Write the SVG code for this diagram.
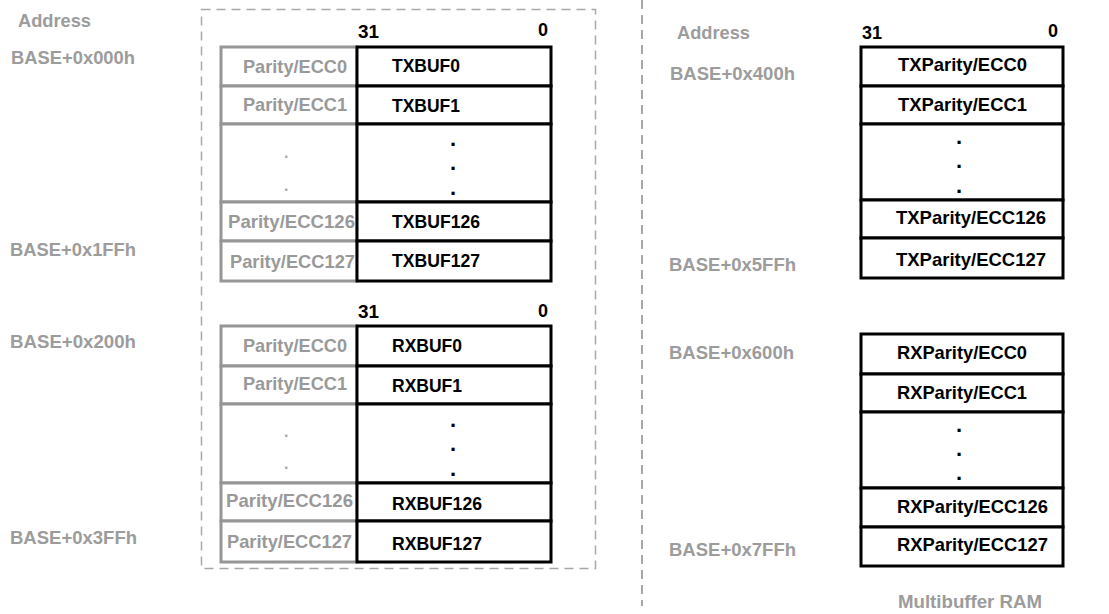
<svg xmlns="http://www.w3.org/2000/svg" width="1109" height="614" viewBox="0 0 1109 614">
<style>
text{font-family:"Liberation Sans",Arial,sans-serif;font-weight:bold;font-size:19px}
.g{fill:#999}
.k{fill:#000}
.addr{fill:#9c9c9c}
.gc{fill:#fff;stroke:#969696;stroke-width:3}
.bc{fill:#fff;stroke:#000;stroke-width:3}
.dash{fill:none;stroke:#a8a8a8;stroke-width:1.5;stroke-dasharray:9 6}
.gdot{fill:#aaa;font-size:16px}
.dot{font-size:22px}
.bit{font-size:18px}
</style>
<rect width="1109" height="614" fill="#fff"/>
<g id="frames">
<rect class="dash" x="201.5" y="9.5" width="394" height="559"/>
<line class="dash" x1="642" y1="0" x2="642" y2="606" style="stroke-width:2;stroke-dasharray:9 6"/>
</g>
<g id="connectors"></g>
<g id="addr-left">
<text class="addr" x="18" y="27" textLength="73" lengthAdjust="spacingAndGlyphs">Address</text>
<text class="addr" x="11" y="64" textLength="124" lengthAdjust="spacingAndGlyphs">BASE+0x000h</text>
<text class="addr" x="10" y="256" textLength="126" lengthAdjust="spacingAndGlyphs">BASE+0x1FFh</text>
<text class="addr" x="10" y="348" textLength="126" lengthAdjust="spacingAndGlyphs">BASE+0x200h</text>
<text class="addr" x="10" y="544" textLength="127" lengthAdjust="spacingAndGlyphs">BASE+0x3FFh</text>
</g>
<g id="tx-left">
<text class="k bit" x="358" y="38" textLength="21" lengthAdjust="spacingAndGlyphs">31</text>
<text class="k bit" x="538" y="36">0</text>
<g id="tx-ecc0"><rect class="gc" x="221" y="47" width="136" height="39"/><text class="g" x="243" y="73" textLength="104" lengthAdjust="spacingAndGlyphs">Parity/ECC0</text></g>
<g id="tx-ecc1"><rect class="gc" x="221" y="86" width="136" height="38"/><text class="g" x="243" y="111" textLength="104" lengthAdjust="spacingAndGlyphs">Parity/ECC1</text></g>
<g id="tx-eccdots"><rect class="gc" x="221" y="124" width="136" height="78"/><text class="gdot" x="284" y="158">.</text><text class="gdot" x="284" y="191">.</text></g>
<g id="tx-ecc126"><rect class="gc" x="221" y="202" width="136" height="39"/><text class="g" x="228" y="228" textLength="127" lengthAdjust="spacingAndGlyphs">Parity/ECC126</text></g>
<g id="tx-ecc127"><rect class="gc" x="221" y="241" width="136" height="40"/><text class="g" x="230" y="268" textLength="125" lengthAdjust="spacingAndGlyphs">Parity/ECC127</text></g>
<g id="txbuf0"><rect class="bc" x="357" y="47" width="194" height="39"/><text class="k" x="392" y="72" textLength="68" lengthAdjust="spacingAndGlyphs">TXBUF0</text></g>
<g id="txbuf1"><rect class="bc" x="357" y="86" width="194" height="38"/><text class="k" x="392" y="112" textLength="68" lengthAdjust="spacingAndGlyphs">TXBUF1</text></g>
<g id="txbufdots"><rect class="bc" x="357" y="124" width="194" height="78"/><text class="k dot" x="450" y="146">.</text><text class="k dot" x="450" y="170">.</text><text class="k dot" x="450" y="195">.</text></g>
<g id="txbuf126"><rect class="bc" x="357" y="202" width="194" height="39"/><text class="k" x="392" y="228" textLength="88" lengthAdjust="spacingAndGlyphs">TXBUF126</text></g>
<g id="txbuf127"><rect class="bc" x="357" y="241" width="194" height="40"/><text class="k" x="392" y="267" textLength="88" lengthAdjust="spacingAndGlyphs">TXBUF127</text></g>
</g>
<g id="rx-left">
<text class="k bit" x="358" y="318" textLength="21" lengthAdjust="spacingAndGlyphs">31</text>
<text class="k bit" x="538" y="317">0</text>
<g id="rx-ecc0"><rect class="gc" x="221" y="326" width="136" height="40"/><text class="g" x="243" y="352" textLength="104" lengthAdjust="spacingAndGlyphs">Parity/ECC0</text></g>
<g id="rx-ecc1"><rect class="gc" x="221" y="366" width="136" height="38"/><text class="g" x="243" y="390" textLength="104" lengthAdjust="spacingAndGlyphs">Parity/ECC1</text></g>
<g id="rx-eccdots"><rect class="gc" x="221" y="404" width="136" height="79"/><text class="gdot" x="284" y="437">.</text><text class="gdot" x="284" y="469">.</text></g>
<g id="rx-ecc126"><rect class="gc" x="221" y="483" width="136" height="38"/><text class="g" x="226" y="507" textLength="127" lengthAdjust="spacingAndGlyphs">Parity/ECC126</text></g>
<g id="rx-ecc127"><rect class="gc" x="221" y="521" width="136" height="41"/><text class="g" x="227" y="548" textLength="125" lengthAdjust="spacingAndGlyphs">Parity/ECC127</text></g>
<g id="rxbuf0"><rect class="bc" x="357" y="326" width="194" height="40"/><text class="k" x="392" y="352" textLength="70" lengthAdjust="spacingAndGlyphs">RXBUF0</text></g>
<g id="rxbuf1"><rect class="bc" x="357" y="366" width="194" height="38"/><text class="k" x="392" y="392" textLength="70" lengthAdjust="spacingAndGlyphs">RXBUF1</text></g>
<g id="rxbufdots"><rect class="bc" x="357" y="404" width="194" height="79"/><text class="k dot" x="450" y="427">.</text><text class="k dot" x="450" y="451">.</text><text class="k dot" x="450" y="476">.</text></g>
<g id="rxbuf126"><rect class="bc" x="357" y="483" width="194" height="38"/><text class="k" x="392" y="510" textLength="90" lengthAdjust="spacingAndGlyphs">RXBUF126</text></g>
<g id="rxbuf127"><rect class="bc" x="357" y="521" width="194" height="41"/><text class="k" x="392" y="550" textLength="90" lengthAdjust="spacingAndGlyphs">RXBUF127</text></g>
</g>
<g id="addr-right">
<text class="addr" x="677" y="39" textLength="73" lengthAdjust="spacingAndGlyphs">Address</text>
<text class="addr" x="670" y="80" textLength="125" lengthAdjust="spacingAndGlyphs">BASE+0x400h</text>
<text class="addr" x="669" y="271" textLength="127" lengthAdjust="spacingAndGlyphs">BASE+0x5FFh</text>
<text class="addr" x="669" y="359" textLength="125" lengthAdjust="spacingAndGlyphs">BASE+0x600h</text>
<text class="addr" x="669" y="556" textLength="127" lengthAdjust="spacingAndGlyphs">BASE+0x7FFh</text>
</g>
<g id="tx-parity-right">
<text class="k bit" x="862" y="39" textLength="20" lengthAdjust="spacingAndGlyphs">31</text>
<text class="k bit" x="1048" y="37">0</text>
<g id="txp0"><rect class="bc" x="861" y="47" width="202" height="39"/><text class="k" x="898" y="71" textLength="129" lengthAdjust="spacingAndGlyphs">TXParity/ECC0</text></g>
<g id="txp1"><rect class="bc" x="861" y="86" width="202" height="38"/><text class="k" x="898" y="111" textLength="129" lengthAdjust="spacingAndGlyphs">TXParity/ECC1</text></g>
<g id="txpdots"><rect class="bc" x="861" y="124" width="202" height="76"/><text class="k dot" x="956" y="144">.</text><text class="k dot" x="956" y="168">.</text><text class="k dot" x="956" y="193">.</text></g>
<g id="txp126"><rect class="bc" x="861" y="200" width="202" height="38"/><text class="k" x="896" y="224" textLength="150" lengthAdjust="spacingAndGlyphs">TXParity/ECC126</text></g>
<g id="txp127"><rect class="bc" x="861" y="238" width="202" height="40"/><text class="k" x="896" y="266" textLength="150" lengthAdjust="spacingAndGlyphs">TXParity/ECC127</text></g>
</g>
<g id="rx-parity-right">
<g id="rxp0"><rect class="bc" x="861" y="334" width="202" height="40"/><text class="k" x="897" y="359" textLength="130" lengthAdjust="spacingAndGlyphs">RXParity/ECC0</text></g>
<g id="rxp1"><rect class="bc" x="861" y="374" width="202" height="38"/><text class="k" x="897" y="399" textLength="130" lengthAdjust="spacingAndGlyphs">RXParity/ECC1</text></g>
<g id="rxpdots"><rect class="bc" x="861" y="412" width="202" height="76"/><text class="k dot" x="956" y="432">.</text><text class="k dot" x="956" y="456">.</text><text class="k dot" x="956" y="480">.</text></g>
<g id="rxp126"><rect class="bc" x="861" y="488" width="202" height="39"/><text class="k" x="897" y="513" textLength="151" lengthAdjust="spacingAndGlyphs">RXParity/ECC126</text></g>
<g id="rxp127"><rect class="bc" x="861" y="527" width="202" height="39"/><text class="k" x="897" y="551" textLength="151" lengthAdjust="spacingAndGlyphs">RXParity/ECC127</text></g>
<text class="addr" x="898" y="608" textLength="144" lengthAdjust="spacingAndGlyphs">Multibuffer RAM</text>
</g>
</svg>
